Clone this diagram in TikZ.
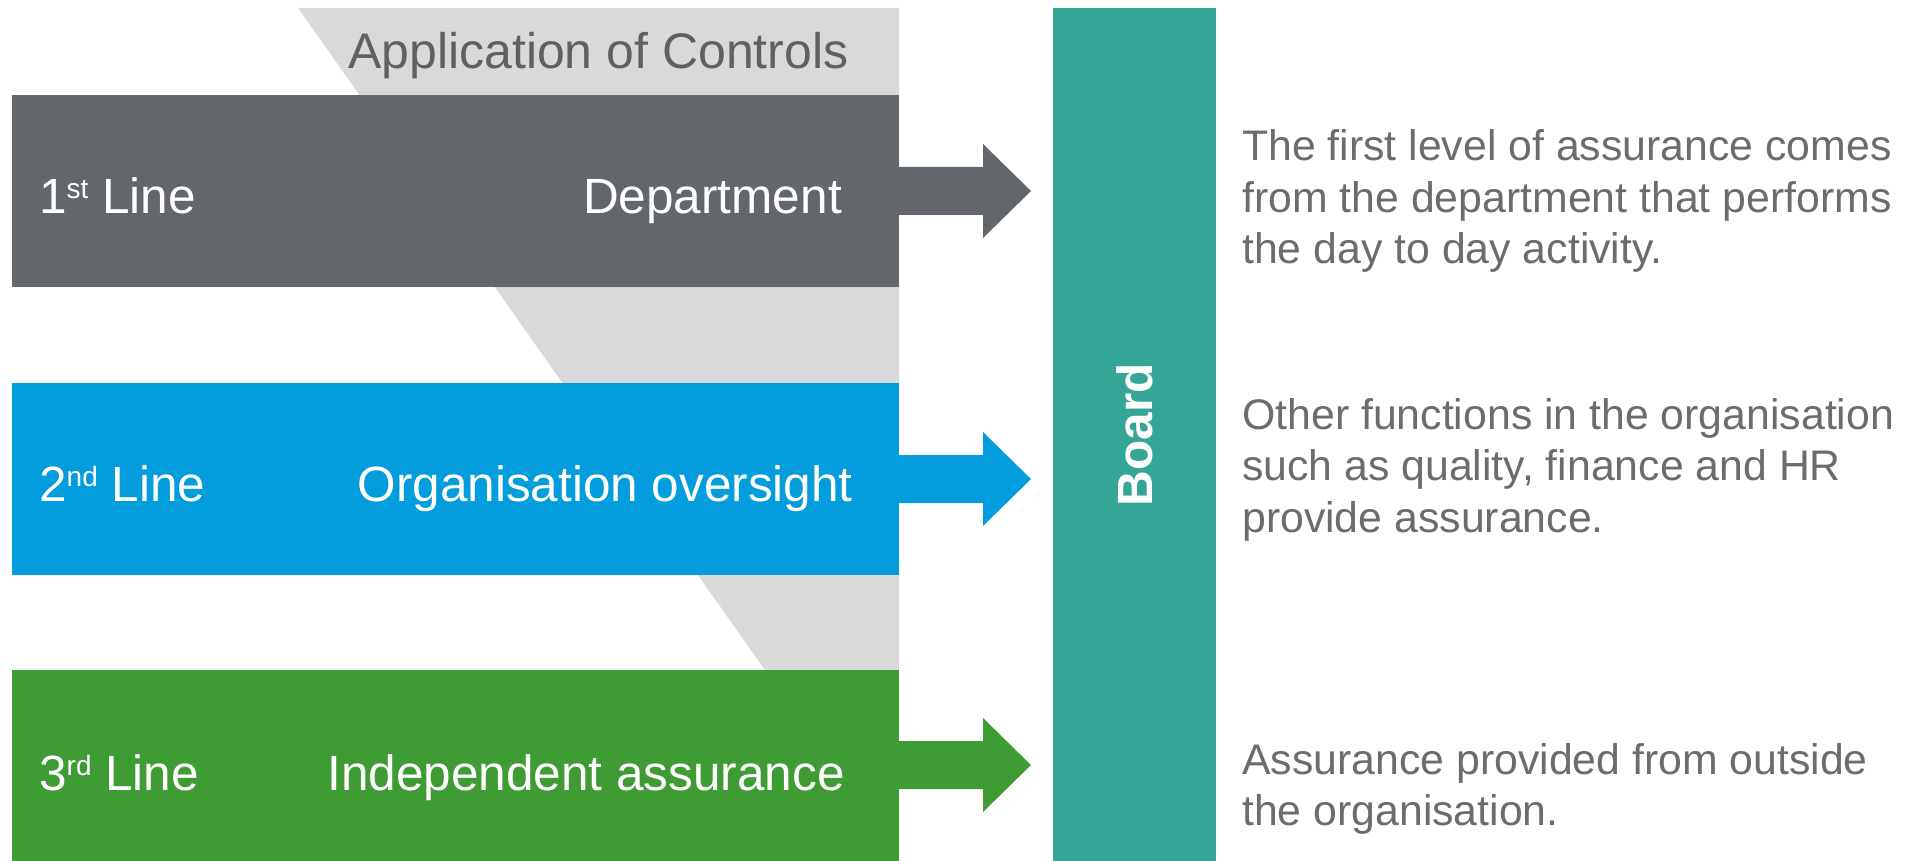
\documentclass[tikz,border=0pt]{standalone}
\usepackage{fontspec}
\setmainfont{Liberation Sans}
\definecolor{dkgray}{HTML}{63666A}
\definecolor{ablue}{HTML}{039CDD}
\definecolor{agreen}{HTML}{3F9C35}
\definecolor{teal}{HTML}{35A596}
\definecolor{ltgray}{HTML}{D9D9D9}
\definecolor{headgray}{HTML}{5F6062}
\definecolor{txtgray}{HTML}{6B6C6E}
\tikzset{
  bar/.style={rectangle, inner sep=0pt, outer sep=0pt, anchor=north west,
    minimum width=887pt, minimum height=192pt},
  barlabel/.style={text=white, inner sep=0pt, font=\fontsize{49.5}{58}\selectfont},
  desc/.style={text=txtgray, inner sep=0pt, anchor=base west, font=\fontsize{42.8}{51.5}\selectfont}
}
\newcommand{\ordsup}[1]{\raisebox{15pt}{\fontsize{28}{28}\selectfont #1}}
\begin{document}
\begin{tikzpicture}[x=1pt, y=-1pt]
\useasboundingbox (0,0) rectangle (1911,861);
% light gray trapezoid
\fill[ltgray] (298,8) -- (899,8) -- (899,680) -- (772,680) -- cycle;
\node[text=headgray, inner sep=0pt, anchor=base west, font=\fontsize{50}{58}\selectfont] (head) at (348,69) {Application of Controls};
% bars
\node[bar, fill=dkgray] (bar1) at (12,95) {};
\node[bar, fill=ablue] (bar2) at (12,383) {};
\node[bar, fill=agreen, minimum height=191pt] (bar3) at (12,670) {};
% board
\node[rectangle, fill=teal, inner sep=0pt, anchor=north west, minimum width=163pt, minimum height=853pt] (board) at (1053,8) {};
\node[rotate=90, text=white, inner sep=0pt, font=\fontsize{49.5}{58}\selectfont\bfseries] (boardtxt) at (board.center) {Board};
% arrows
\fill[dkgray] ([xshift=-2pt]bar1.east) ++(0,-24) -- ++(86,0) -- ++(0,-23) -- ++(48,47) -- ++(-48,47) -- ++(0,-23) -- ++(-86,0) -- cycle;
\fill[ablue] ([xshift=-2pt]bar2.east) ++(0,-24) -- ++(86,0) -- ++(0,-23) -- ++(48,47) -- ++(-48,47) -- ++(0,-23) -- ++(-86,0) -- cycle;
\fill[agreen] ([xshift=-2pt,yshift=0.5pt]bar3.east) ++(0,-24) -- ++(86,0) -- ++(0,-23) -- ++(48,47) -- ++(-48,47) -- ++(0,-23) -- ++(-86,0) -- cycle;
% bar labels
\node[barlabel, anchor=base west] (l1) at (39,214) {1\ordsup{st} Line};
\node[barlabel, anchor=base east] (r1) at (842,214) {Department};
\node[barlabel, anchor=base west] (l2) at (39,501) {2\ordsup{nd} Line};
\node[barlabel, anchor=base east] (r2) at (853,501) {Organisation oversight};
\node[barlabel, anchor=base west] (l3) at (39,790) {3\ordsup{rd} Line};
\node[barlabel, anchor=base east] (r3) at (845,790) {Independent\ assurance};
% descriptions
\node[desc] (d1) at (1242,161) {\begin{tabular}[t]{@{}l@{}}The first level of assurance comes\\from the department that performs\\the day to day activity.\end{tabular}};
\node[desc] (d2) at (1242,429) {\begin{tabular}[t]{@{}l@{}}Other functions in the organisation\\such as quality, finance and HR\\provide assurance.\end{tabular}};
\node[desc] (d3) at (1242,774) {\begin{tabular}[t]{@{}l@{}}Assurance provided from outside\\the organisation.\end{tabular}};
\end{tikzpicture}
\end{document}
